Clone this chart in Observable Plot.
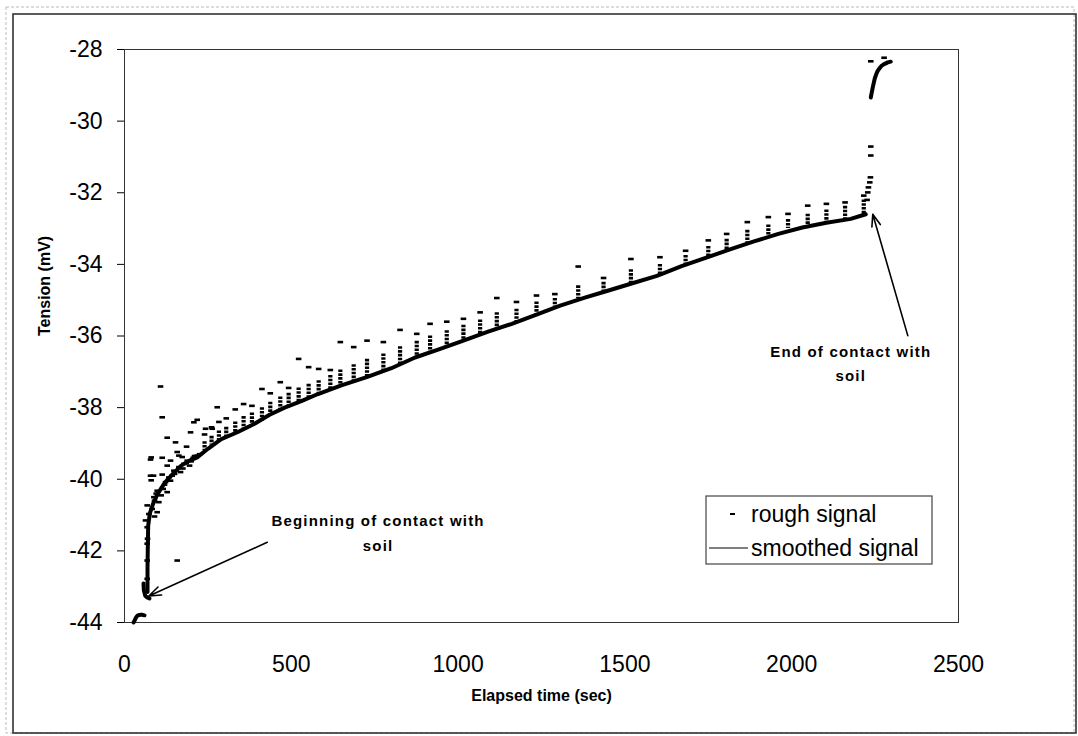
<!DOCTYPE html>
<html>
<head>
<meta charset="utf-8">
<script src="https://cdn.jsdelivr.net/npm/d3@7"></script>
<script src="https://cdn.jsdelivr.net/npm/@observablehq/plot@0.6"></script>
<style>
  html, body { margin: 0; padding: 0; background: white; }
  #wrap { position: relative; width: 1078px; height: 736px; overflow: hidden; }
  #overlay { position: absolute; left: 0; top: 0; pointer-events: none; }
  #chart { position: absolute; left: 0; top: 0; }
</style>
</head>
<body>
<div id="wrap"><div id="chart"></div></div>
<script>
// ---------- data ----------
const xTicks = [0, 500, 1000, 1500, 2000, 2500];
const yTicks = [-44, -42, -40, -38, -36, -34, -32, -30, -28];
const seriesNames = ["rough signal", "smoothed signal"];

// smoothed signal (segments: 1 = pre-contact, 2 = contact onset, 3 = contact, 4 = after contact)
const smoothSegment = [1,1,1,1,1,1,1,1,1, 2,2,2,2,2,
  3,3,3,3,3,3,3,3,3,3,3,3,3,3,3,3,3,3,3,3,3,3,3,3,3,3,3,3,3,3,3,3,3,3,3,3,3,3,3,3,3,3,3,3,
  4,4,4,4,4,4,4,4,4,4,4,4];
const smoothTime = [27,30,33,36,39,45,50,55,60, 57,58,62,68,75,
  69,69,70,71,76,85,97,110,125,145,170,195,218,250,290,340,390,435,480,530,580,650,726,800,871,940,1016,1090,1161,1235,1306,1380,1451,1525,1596,1670,1742,1815,1887,1960,2032,2104,2177,2222,
  2237,2240,2243,2246,2249,2253,2258,2264,2270,2279,2288,2297];
const smoothValue = [-44.0,-43.95,-43.89,-43.84,-43.81,-43.79,-43.78,-43.79,-43.8, -42.91,-43.1,-43.25,-43.3,-43.33,
  -43.15,-42.5,-41.8,-41.3,-40.95,-40.7,-40.45,-40.25,-40.05,-39.85,-39.62,-39.48,-39.39,-39.15,-38.88,-38.68,-38.45,-38.2,-38.0,-37.82,-37.62,-37.38,-37.15,-36.9,-36.6,-36.38,-36.13,-35.88,-35.66,-35.4,-35.15,-34.93,-34.73,-34.52,-34.32,-34.05,-33.82,-33.58,-33.36,-33.15,-32.97,-32.84,-32.73,-32.6,
  -29.34,-29.2,-29.06,-28.93,-28.81,-28.7,-28.59,-28.52,-28.45,-28.4,-28.36,-28.34];

// periodic spikes of the rough signal
const spikeTime    = [240,261,283,305,332,357,382,412,437,467,492,522,552,582,617,647,687,727,776,826,876,916,966,1016,1066,1116,1175,1235,1290,1360,1436,1518,1605,1682,1750,1805,1867,1930,1989,2048,2104,2160,2216];
const spikeBase    = [-39.2,-39.05,-38.93,-38.86,-38.7,-38.6,-38.5,-38.38,-38.22,-38.08,-37.98,-37.87,-37.75,-37.63,-37.5,-37.39,-37.27,-37.15,-36.98,-36.8,-36.6,-36.46,-36.3,-36.13,-35.96,-35.8,-35.6,-35.4,-35.2,-34.96,-34.78,-34.55,-34.3,-34.05,-33.8,-33.62,-33.4,-33.18,-33.0,-32.92,-32.84,-32.76,-32.62];
const spikeStemTop = [-38.95,-38.8,-38.65,-38.55,-38.4,-38.25,-38.15,-38.0,-37.85,-37.7,-37.6,-37.45,-37.35,-37.25,-37.1,-36.95,-36.8,-36.65,-36.5,-36.3,-36.15,-36.0,-35.85,-35.7,-35.55,-35.35,-35.25,-35.05,-34.95,-34.6,-34.5,-34.15,-34.0,-33.75,-33.5,-33.3,-33.05,-32.9,-32.75,-32.6,-32.48,-32.38,-32.2];
const spikePeak    = [-38.75,-38.55,-38.4,-38.3,-38.05,-37.9,-37.95,-37.48,-37.6,-37.29,-37.45,-36.64,-36.87,-36.92,-36.95,-36.17,-36.31,-36.13,-36.17,-35.83,-35.94,-35.66,-35.6,-35.52,-35.34,-34.94,-35.05,-34.87,-34.83,-34.06,-34.38,-33.85,-33.8,-33.62,-33.33,-33.15,-32.82,-32.68,-32.59,-32.36,-32.31,-32.27,-32.08];

// other rough-signal samples (onset scatter and the final jump)
const roughTime  = [63,68,68,73,78,78,80,83,88,90,98,98,103,108,110,113,113,113,116,123,128,128,128,138,138,143,148,153,158,158,163,163,168,173,178,186,188,195,198,206,208,218,218,243,263,278,68,68,68,69,80,87,90,95,120,133,150,175,185,200,210,225,
                    2226,2228,2230,2234,2236,2237,2237,2237,2277];
const roughValue = [-41.15,-41.34,-40.73,-40.97,-39.45,-39.9,-40.03,-40.83,-40.5,-41.04,-40.92,-40.32,-40.64,-37.41,-40.45,-38.27,-39.4,-39.87,-40.27,-40.08,-38.84,-40.36,-39.62,-40.04,-39.48,-39.9,-39.76,-38.97,-39.24,-42.27,-39.66,-39.34,-39.8,-39.38,-39.57,-39.09,-39.48,-39.62,-38.69,-39.4,-38.41,-38.34,-39.34,-38.59,-38.59,-37.99,-41.8,-42.27,-42.78,-41.66,-39.39,-39.9,-40.6,-40.4,-40.15,-39.95,-39.85,-39.7,-39.55,-39.5,-39.35,-39.3,
                    -32.2,-31.99,-31.85,-31.71,-31.57,-30.96,-30.71,-28.33,-28.23];

// annotations
const annotText  = ["Beginning of contact with\nsoil", "End of contact with\nsoil"];
const annotX     = [760, 2177];
const annotY     = [-41.43, -36.70];
const arrowFromX = [428, 2348];
const arrowFromY = [-41.76, -35.99];
const arrowToX   = [73, 2243];
const arrowToY   = [-43.26, -32.60];

// ---------- build ----------
const smooth = smoothTime.map((t, i) => ({t, v: smoothValue[i], seg: smoothSegment[i]}));
const spikes = spikeTime.map((t, i) => ({t, base: spikeBase[i], stem: spikeStemTop[i], peak: spikePeak[i]}));
const rough = roughTime.map((t, i) => ({t, v: roughValue[i]}))
  .concat(spikes.map(s => ({t: s.t, v: s.peak})));
const annots = annotText.map((text, i) => ({text, x: annotX[i], y: annotY[i],
  x1: arrowFromX[i], y1: arrowFromY[i], x2: arrowToX[i], y2: arrowToY[i]}));

const dash = {draw(ctx, size) { const r = Math.sqrt(size / Math.PI); ctx.moveTo(-r, 0); ctx.lineTo(r, 0); }};
const FONT = "Arial, 'Liberation Sans', sans-serif";

const plot = Plot.plot({
  width: 1078, height: 736,
  marginLeft: 124, marginRight: 120, marginTop: 49, marginBottom: 114,
  x: {domain: [0, 2500]},
  y: {domain: [-44, -28]},
  style: {fontFamily: FONT, background: "white", color: "black"},
  marks: [
    Plot.frame({stroke: "#333", strokeWidth: 1}),
    Plot.axisY({ticks: yTicks, tickFormat: d => String(d), tickSize: 7, tickPadding: 15, fontSize: 23, label: null}),
    Plot.axisX({ticks: xTicks, tickFormat: d => String(d), tickSize: 0, tickPadding: 33, fontSize: 23, label: null}),
    Plot.text(["Elapsed time (sec)"], {text: d => d, frameAnchor: "bottom", dy: 78, fontSize: 16, fontWeight: "bold"}),
    Plot.text(["Tension (mV)"], {text: d => d, frameAnchor: "left", dx: -80, rotate: -90, fontSize: 16, fontWeight: "bold"}),
    Plot.line(smooth, {x: "t", y: "v", z: "seg", stroke: "black", strokeWidth: 4, curve: "linear"}),
    Plot.ruleX(spikes, {x: "t", y1: "stem", y2: "base", stroke: "black", strokeWidth: 4.2, strokeDasharray: "2.6,1.2"}),
    Plot.dot(rough, {x: "t", y: "v", symbol: dash, r: 2.8, stroke: "black", strokeWidth: 2.6, fill: "none"}),
    Plot.arrow(annots, {x1: "x1", y1: "y1", x2: "x2", y2: "y2", stroke: "black", strokeWidth: 1.6, headLength: 12, headAngle: 40}),
    Plot.text(annots, {x: "x", y: "y", text: "text", fontSize: 15, fontWeight: "bold", lineHeight: 1.65, fill: "black"})
  ]
});
document.getElementById("chart").appendChild(plot);
d3.select(plot).selectAll("text").filter(function() { return this.textContent.includes("contact"); })
  .style("letter-spacing", "1.2px");

// overlay: outer border and legend
const ov = d3.select("#wrap").append("svg").attr("id", "overlay").attr("width", 1078).attr("height", 736);
ov.append("rect").attr("x", 6).attr("y", 7).attr("width", 1068).attr("height", 726)
  .attr("fill", "none").attr("stroke", "#bbb").attr("stroke-width", 1).attr("stroke-dasharray", "3,2");
ov.append("rect").attr("x", 13).attr("y", 14).attr("width", 1063).attr("height", 719)
  .attr("fill", "none").attr("stroke", "#333").attr("stroke-width", 1.6);
const lg = ov.append("g").attr("font-family", FONT).attr("font-size", 23);
lg.append("rect").attr("x", 706).attr("y", 496).attr("width", 226).attr("height", 68)
  .attr("fill", "white").attr("stroke", "#444").attr("stroke-width", 1.2);
seriesNames.forEach((name, i) => {
  const cy = 514 + i * 34;
  if (i === 0) lg.append("line").attr("x1", 730).attr("x2", 735).attr("y1", cy).attr("y2", cy).attr("stroke", "black").attr("stroke-width", 2);
  else lg.append("line").attr("x1", 709).attr("x2", 748).attr("y1", cy).attr("y2", cy).attr("stroke", "black").attr("stroke-width", 1);
  lg.append("text").attr("x", 751).attr("y", cy).attr("dy", "0.35em").text(name);
});
</script>
</body>
</html>
